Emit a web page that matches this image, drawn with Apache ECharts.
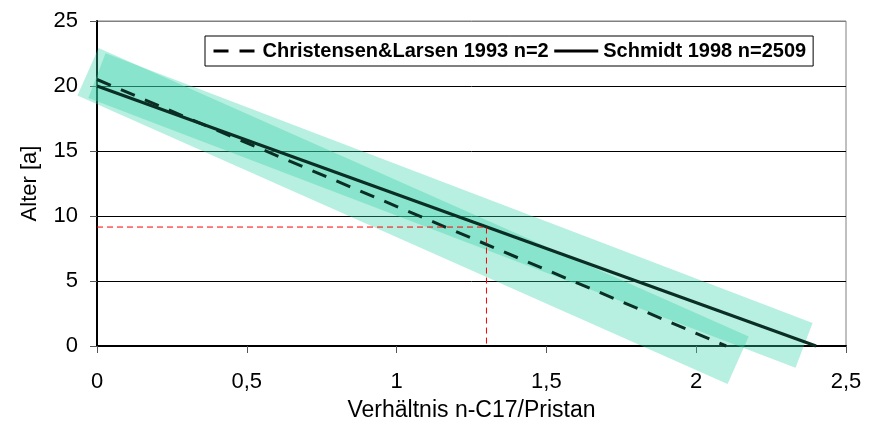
<!DOCTYPE html>
<html>
<head>
<meta charset="utf-8">
<script src="https://cdn.jsdelivr.net/npm/echarts@6/dist/echarts.min.js"></script>
<style>
html,body{margin:0;padding:0;background:#fff;}
#chart{width:879px;height:437px;}
</style>
</head>
<body>
<div id="chart"></div>
<script>
// ---- data ----
const seriesNames = ['Christensen&Larsen 1993 n=2', 'Schmidt 1998 n=2509'];
const christensenX = [0, 2.1];
const christensenY = [20.5, 0];
const schmidtX = [0, 2.4];
const schmidtY = [20, 0];
// uncertainty bands (centre lines)
const bandChristensenX = [-0.03, 2.14];
const bandChristensenY = [21.1, -1.1];
const bandSchmidtX = [0.0, 2.36];
const bandSchmidtY = [20.8, 0.05];
// red reading guide
const guideX = [0, 1.3, 1.3];
const guideY = [9.15, 9.15, 0];
// tick labels
const xTickValues = [0, 0.5, 1, 1.5, 2, 2.5];
const xTickLabels = ['0', '0,5', '1', '1,5', '2', '2,5'];
const yTickLabels = ['0', '5', '10', '15', '20', '25'];

function pairs(xs, ys) { return xs.map((x, i) => [x, ys[i]]); }

const FONT = 'Liberation Sans, Arial, sans-serif';
const bandColor = 'rgba(50,210,165,0.35)';
const lineColor = '#0a2e24';

const chart = echarts.init(document.getElementById('chart'), null, {renderer: 'canvas'});
chart.setOption({
  animation: false,
  backgroundColor: '#fff',
  grid: {
    left: 97, right: 33, top: 21, bottom: 91,
    containLabel: false, outerBoundsMode: 'none',
    show: true, borderColor: '#808080', borderWidth: 1, backgroundColor: 'transparent'
  },
  legend: {
    data: seriesNames,
    left: 205, top: 36,
    orient: 'horizontal',
    padding: [5, 7, 5, 7],
    itemWidth: 44, itemHeight: 14, itemGap: 4,
    borderColor: '#000', borderWidth: 1, backgroundColor: '#fff',
    itemStyle: {opacity: 0},
    lineStyle: {color: '#000', width: 3},
    textStyle: {fontFamily: FONT, fontSize: 20, fontWeight: 'bold', color: '#000'},
    selectedMode: false
  },
  xAxis: {
    type: 'value', min: 0, max: 2.5, interval: 0.5,
    name: 'Verhältnis n-C17/Pristan', nameLocation: 'middle', nameGap: 53,
    nameTextStyle: {fontFamily: FONT, fontSize: 23, color: '#000'},
    axisLine: {show: true, onZero: false, lineStyle: {color: '#000', width: 2}},
    axisTick: {show: true, length: 7, inside: false, lineStyle: {color: '#555', width: 1}},
    axisLabel: {
      fontFamily: FONT, fontSize: 22, color: '#000', margin: 25,
      formatter: v => { const i = xTickValues.findIndex(t => Math.abs(t - v) < 1e-9); return i >= 0 ? xTickLabels[i] : ''; }
    },
    splitLine: {show: false}
  },
  yAxis: {
    type: 'value', min: 0, max: 25, interval: 5,
    name: 'Alter [a]', nameLocation: 'middle', nameGap: 56, nameRotate: 90,
    nameTextStyle: {fontFamily: FONT, fontSize: 22, color: '#000'},
    axisLine: {show: true, onZero: false, lineStyle: {color: '#000', width: 2}},
    axisTick: {show: true, length: 7, inside: false, lineStyle: {color: '#555', width: 1}},
    axisLabel: {
      fontFamily: FONT, fontSize: 22, color: '#000', margin: 19,
      formatter: v => yTickLabels[Math.round(v / 5)] ?? ''
    },
    splitLine: {show: true, lineStyle: {color: ['#000', '#000', '#000', '#000', '#000', '#808080'], width: 1}}
  },
  series: [
    {
      name: 'bandC', type: 'line', data: pairs(bandChristensenX, bandChristensenY),
      symbol: 'none', clip: false, silent: true, z: 2,
      lineStyle: {color: bandColor, width: 52, cap: 'butt'}
    },
    {
      name: 'bandS', type: 'line', data: pairs(bandSchmidtX, bandSchmidtY),
      symbol: 'none', clip: false, silent: true, z: 2,
      lineStyle: {color: bandColor, width: 48, cap: 'butt'}
    },
    {
      name: seriesNames[0], type: 'line', data: pairs(christensenX, christensenY),
      symbol: 'none', clip: false, z: 4,
      itemStyle: {color: lineColor},
      lineStyle: {color: lineColor, width: 3, type: [15, 11]}
    },
    {
      name: seriesNames[1], type: 'line', data: pairs(schmidtX, schmidtY),
      symbol: 'none', clip: false, z: 4,
      itemStyle: {color: lineColor},
      lineStyle: {color: lineColor, width: 3, type: 'solid'}
    },
    {
      name: 'guide', type: 'line', data: pairs(guideX, guideY),
      symbol: 'none', clip: false, silent: true, z: 5,
      lineStyle: {color: '#ff0000', width: 1, type: [6, 4]}
    }
  ]
});
</script>
</body>
</html>
